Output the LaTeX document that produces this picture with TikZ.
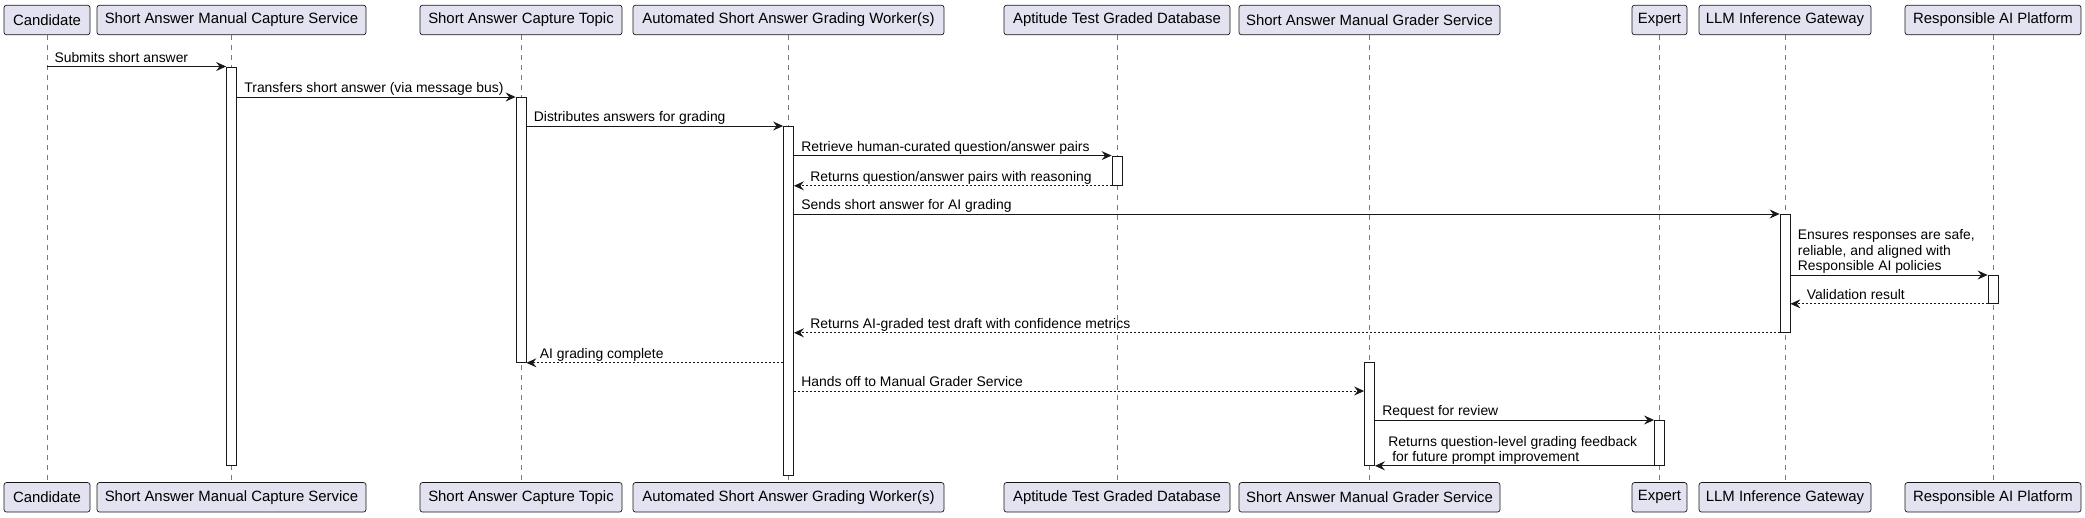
\documentclass[tikz,border=0pt]{standalone}
\usepackage{fontspec}
\setmainfont{Liberation Sans}
\usepackage{tikz}
\usetikzlibrary{arrows.meta}
\definecolor{boxFill}{HTML}{E2E2F0}
\definecolor{inkDark}{HTML}{181818}
\definecolor{lifeGray}{HTML}{7A7A7A}

\begin{document}
\begin{tikzpicture}[x=1pt,y=-1pt,
  part/.style={draw=inkDark,fill=boxFill,line width=0.7pt,rounded corners=2.5pt,minimum height=29.5pt,inner sep=0pt,font=\fontsize{14.9}{17}\selectfont},
  lifeline/.style={draw=lifeGray,line width=0.6pt,dash pattern=on 5pt off 5pt},
  actbar/.style={draw=inkDark,fill=white,line width=0.8pt,minimum width=10pt,inner sep=0pt,anchor=north},
  msg/.style={draw=inkDark,line width=1pt,-{Stealth[length=10pt,width=9pt,inset=3.5pt]}},
  reply/.style={msg,dash pattern=on 2pt off 2pt},
  lbl/.style={anchor=base west,inner sep=0pt,yshift=4.5pt,font=\fontsize{13.9}{15.3}\selectfont,text=black}]
\useasboundingbox (0,0) rectangle (2085,517);
% participants, top and bottom, with their lifelines
\foreach \n/\x/\w/\t in {cand/47/86/Candidate,
    capsvc/231.5/269/Short Answer Manual Capture Service,
    captopic/521/202/Short Answer Capture Topic,
    worker/788.5/311/Automated Short Answer Grading Worker(s),
    gradeddb/1117/226/Aptitude Test Graded Database,
    grader/1369.5/261/Short Answer Manual Grader Service,
    expert/1659.5/55/Expert,
    llm/1785/172/LLM Inference Gateway,
    rai/1993/176/Responsible AI Platform}{
  \node[part,minimum width=\w pt] (\n) at (\x,20) {\t};
  \node[part,minimum width=\w pt] (\n-b) at (\x,497.3) {\t};
  \draw[lifeline] (\n) -- (\n-b);
}
% activation bars
\node[actbar,minimum height=398.5pt] (capsvc-act) at (capsvc |- 0,66.5) {};
\node[actbar,minimum height=265pt] (captopic-act) at (captopic |- 0,97) {};
\node[actbar,minimum height=349pt] (worker-act) at (worker |- 0,126) {};
\node[actbar,minimum height=29.4pt] (gradeddb-act) at (gradeddb |- 0,155.6) {};
\node[actbar,minimum height=118pt] (llm-act) at (llm |- 0,214) {};
\node[actbar,minimum height=28pt] (rai-act) at (rai |- 0,275) {};
\node[actbar,minimum height=103pt] (grader-act) at (grader |- 0,362) {};
\node[actbar,minimum height=45pt] (expert-act) at (expert |- 0,420) {};
\coordinate (handoff) at (0,391);
% messages
\draw[msg] (cand |- capsvc-act.north) -- (capsvc-act.north west)
  node[lbl,pos=0,xshift=7pt] {Submits short answer};
\draw[msg] (capsvc-act.east |- captopic-act.north) -- (captopic-act.north west)
  node[lbl,pos=0,xshift=7pt] {Transfers short answer (via message bus)};
\draw[msg] (captopic-act.east |- worker-act.north) -- (worker-act.north west)
  node[lbl,pos=0,xshift=7pt] {Distributes answers for grading};
\draw[msg] (worker-act.east |- gradeddb-act.north) -- (gradeddb-act.north west)
  node[lbl,pos=0,xshift=7pt] {Retrieve human-curated question/answer pairs};
\draw[reply] (gradeddb-act.south west) -- (worker-act.east |- gradeddb-act.south)
  node[lbl,pos=1,xshift=16pt] {Returns question/answer pairs with reasoning};
\draw[msg] (worker-act.east |- llm-act.north) -- (llm-act.north west)
  node[lbl,pos=0,xshift=7pt] {Sends short answer for AI grading};
\draw[msg] (llm-act.east |- rai-act.north) -- (rai-act.north west)
  node[lbl,pos=0,xshift=7pt,align=left] {Ensures responses are safe,\\reliable, and aligned with\\Responsible AI policies};
\draw[reply] (rai-act.south west) -- (llm-act.east |- rai-act.south)
  node[lbl,pos=1,xshift=16pt] {Validation result};
\draw[reply] (llm-act.south west) -- (worker-act.east |- llm-act.south)
  node[lbl,pos=1,xshift=16pt] {Returns AI-graded test draft with confidence metrics};
\draw[reply] (worker-act.west |- captopic-act.south) -- (captopic-act.south east)
  node[lbl,pos=1,xshift=13pt] {AI grading complete};
\draw[reply] (worker-act.east |- handoff) -- (grader-act.west |- handoff)
  node[lbl,pos=0,xshift=7pt] {Hands off to Manual Grader Service};
\draw[msg] (grader-act.east |- expert-act.north) -- (expert-act.north west)
  node[lbl,pos=0,xshift=7pt] {Request for review};
\draw[msg] (expert-act.south west) -- (grader-act.south east)
  node[lbl,pos=1,xshift=13pt,align=left] {Returns question-level grading feedback\\\ for future prompt improvement};
\end{tikzpicture}
\end{document}
